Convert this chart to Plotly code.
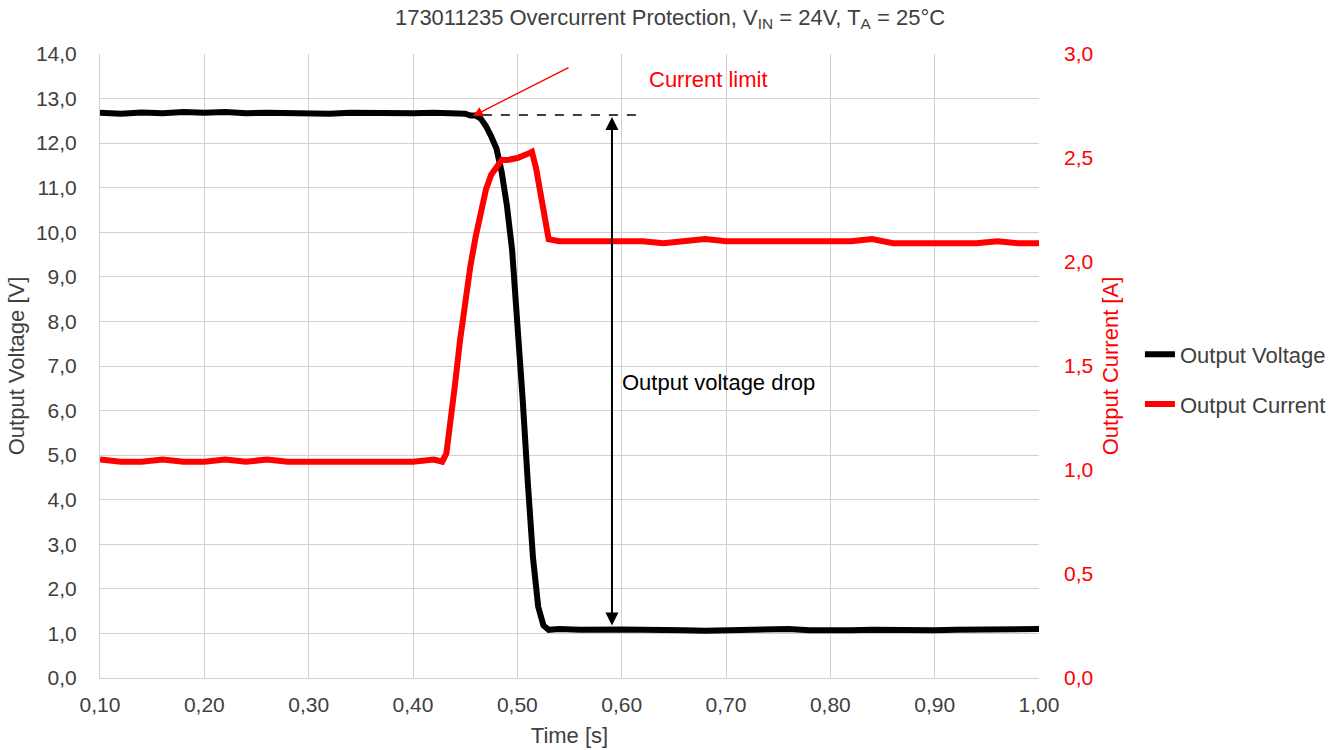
import plotly.graph_objects as go

# ---- data ----
time_v = [0.100, 0.120, 0.140, 0.160, 0.180, 0.200, 0.220, 0.240, 0.260, 0.280,
          0.300, 0.320, 0.340, 0.360, 0.380, 0.400, 0.420, 0.440, 0.450, 0.455,
          0.460, 0.465, 0.470, 0.475, 0.480, 0.485, 0.490, 0.495, 0.500, 0.505,
          0.510, 0.515, 0.520, 0.525, 0.530, 0.540, 0.560, 0.580, 0.600, 0.620,
          0.640, 0.660, 0.680, 0.700, 0.720, 0.740, 0.760, 0.780, 0.800, 0.820,
          0.840, 0.860, 0.880, 0.900, 0.920, 0.940, 0.960, 0.980, 1.000]
voltage = [12.68, 12.66, 12.69, 12.67, 12.70, 12.68, 12.70, 12.67, 12.68, 12.67,
           12.68, 12.66, 12.68, 12.67, 12.68, 12.67, 12.68, 12.67, 12.66, 12.62,
           12.62, 12.55, 12.38, 12.15, 11.88, 11.35, 10.60, 9.60, 8.10, 6.30,
           4.40, 2.70, 1.60, 1.18, 1.08, 1.10, 1.08, 1.10, 1.09, 1.08,
           1.09, 1.07, 1.06, 1.07, 1.06, 1.08, 1.10, 1.07, 1.06, 1.07,
           1.08, 1.07, 1.06, 1.07, 1.08, 1.09, 1.07, 1.08, 1.10]

time_i = [0.100, 0.120, 0.140, 0.160, 0.180, 0.200, 0.220, 0.240, 0.260, 0.280,
          0.300, 0.320, 0.340, 0.360, 0.380, 0.400, 0.420, 0.428, 0.432, 0.436,
          0.440, 0.445, 0.450, 0.455, 0.460, 0.465, 0.470, 0.475, 0.480, 0.485,
          0.490, 0.500, 0.510, 0.514, 0.518, 0.522, 0.526, 0.530, 0.540, 0.560,
          0.580, 0.600, 0.620, 0.640, 0.660, 0.680, 0.700, 0.720, 0.740, 0.760,
          0.780, 0.800, 0.820, 0.840, 0.860, 0.880, 0.900, 0.920, 0.940, 0.960,
          0.980, 1.000]
current = [1.05, 1.04, 1.04, 1.05, 1.04, 1.04, 1.05, 1.04, 1.05, 1.04,
           1.04, 1.04, 1.04, 1.04, 1.04, 1.04, 1.05, 1.04, 1.08, 1.22,
           1.40, 1.62, 1.82, 1.98, 2.12, 2.25, 2.35, 2.42, 2.46, 2.49,
           2.49, 2.50, 2.52, 2.53, 2.45, 2.33, 2.20, 2.11, 2.10, 2.10,
           2.10, 2.10, 2.10, 2.09, 2.10, 2.11, 2.10, 2.10, 2.10, 2.10,
           2.10, 2.10, 2.10, 2.11, 2.09, 2.09, 2.09, 2.09, 2.09, 2.10,
           2.09, 2.09]

limit_point = (0.4575, 12.61)
limit_tail = (0.5505, 13.71)
dashed_x = (0.467, 0.616)
dashed_level = 12.63
drop_time = 0.5907
drop_top = 12.62
drop_bottom = 1.18
drop_label_pos = (0.598, 6.62)
current_label_pos = (0.683, 13.42)

FONT = "Arial, Liberation Sans, sans-serif"
FS = 22
TICK_FS = 21
TXT = "#404040"

fig = go.Figure()
fig.add_trace(go.Scatter(x=time_v, y=voltage, mode="lines", name="Output Voltage",
                         line=dict(color="black", width=6), legendgroup="v"))
fig.add_trace(go.Scatter(x=time_i, y=current, mode="lines", name="Output Current",
                         line=dict(color="#ff0000", width=6), yaxis="y2", legendgroup="i"))

fig.add_shape(type="line", x0=dashed_x[0], x1=dashed_x[1], y0=dashed_level, y1=dashed_level,
              xref="x", yref="y", line=dict(color="black", width=1.5, dash="dash"))

fig.add_annotation(x=limit_point[0], y=limit_point[1], ax=limit_tail[0], ay=limit_tail[1],
                   xref="x", yref="y", axref="x", ayref="y", text="", showarrow=True,
                   arrowhead=2, arrowsize=1.3, arrowwidth=1.5, arrowcolor="#ff0000")
fig.add_annotation(x=drop_time, y=drop_bottom, ax=drop_time, ay=drop_top,
                   xref="x", yref="y", axref="x", ayref="y", text="", showarrow=True,
                   arrowhead=2, startarrowhead=2, arrowside="end+start", arrowsize=1.3,
                   startarrowsize=1.3, arrowwidth=2, arrowcolor="black")
fig.add_annotation(x=drop_label_pos[0], y=drop_label_pos[1], xref="x", yref="y",
                   text="Output voltage drop", showarrow=False, xanchor="left",
                   font=dict(family=FONT, size=FS, color="black"))
fig.add_annotation(x=current_label_pos[0], y=current_label_pos[1], xref="x", yref="y",
                   text="Current limit", showarrow=False, xanchor="center",
                   font=dict(family=FONT, size=FS, color="#ff0000"))

grid = "#d0d0d0"
fig.update_layout(
    width=1340, height=750,
    margin=dict(l=100, r=301, t=54, b=72, autoexpand=False),
    paper_bgcolor="white", plot_bgcolor="white",
    separators=", ",
    font=dict(family=FONT, size=TICK_FS, color=TXT),
    title=dict(text="173011235 Overcurrent Protection, V<sub>IN</sub> = 24V, T<sub>A</sub> = 25°C",
               x=0.5, xanchor="center", y=1 - 17 / 750, yanchor="middle",
               font=dict(family=FONT, size=FS, color=TXT)),
    xaxis=dict(range=[0.10, 1.00], dtick=0.1, tick0=0.1, tickformat=".2f",
               showgrid=True, gridcolor=grid, showline=True, linecolor=grid, zeroline=False,
               ticks="", ticklabelstandoff=8,
               title=dict(text="Time [s]", standoff=12, font=dict(size=FS, color=TXT))),
    yaxis=dict(range=[0, 14], dtick=1, tickformat=".1f",
               showgrid=True, gridcolor=grid, showline=True, linecolor=grid, zeroline=False,
               ticks="", ticklabelstandoff=18,
               title=dict(text="Output Voltage [V]", standoff=5, font=dict(size=FS, color=TXT))),
    yaxis2=dict(range=[0, 3], dtick=0.5, tickformat=".1f", overlaying="y", side="right",
                showgrid=False, zeroline=False, showline=False, ticks="", ticklabelstandoff=24,
                tickfont=dict(color="#ff0000"),
                title=dict(text="Output Current [A]", standoff=10, font=dict(size=FS, color="#ff0000"))),
    legend=dict(x=1.1075, xanchor="left", y=0.552, yanchor="top", tracegroupgap=18,
                font=dict(family=FONT, size=FS), bgcolor="rgba(0,0,0,0)"),
    showlegend=True,
)

fig.write_html("out.html", config={"displayModeBar": False},
               post_script="document.body.style.margin='0';")
